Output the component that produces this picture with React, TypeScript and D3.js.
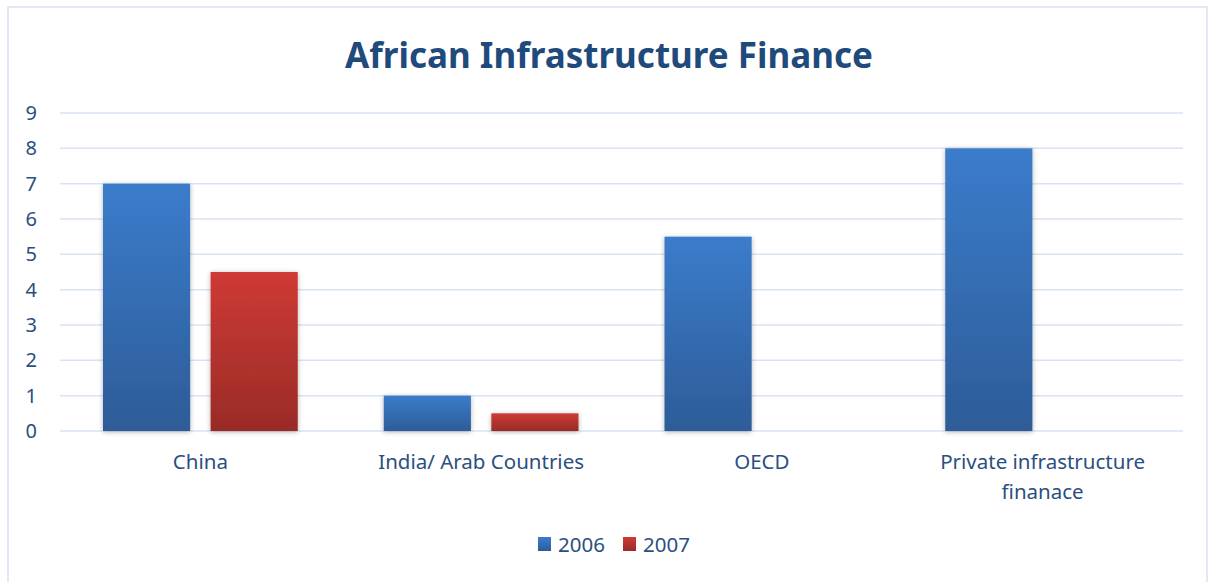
import * as d3 from 'd3';

const categories = ['China', 'India/ Arab Countries', 'OECD', 'Private infrastructure finanace'];
const seriesNames = ['2006', '2007'];
const values2006 = [7, 1, 5.5, 8];
const values2007 = [4.5, 0.5, 0, 0];
const yTicks = [0, 1, 2, 3, 4, 5, 6, 7, 8, 9];

const W = 1212;
const H = 582;
const margin = { top: 113, right: 29, bottom: 151, left: 60 };
const font = "'Noto Sans', 'Open Sans', sans-serif";
const textColor = '#2b4f7f';

function wrapLabel(label: string): string[] {
  if (label === 'Private infrastructure finanace') return ['Private infrastructure', 'finanace'];
  return [label];
}

export default function App() {
  const innerW = W - margin.left - margin.right;
  const innerH = H - margin.top - margin.bottom;

  const x0 = d3.scaleBand<string>().domain(categories).range([0, innerW]).paddingInner(0).paddingOuter(0);
  const x1 = d3.scaleBand<string>().domain(seriesNames).range([43, x0.bandwidth() - 43]).paddingInner(0.19).paddingOuter(0);
  const y = d3.scaleLinear().domain([0, 9]).range([innerH, 0]);

  const seriesValues = [values2006, values2007];
  const grads = ['gBlue', 'gRed'];

  return (
    <svg width={W} height={H} style={{ position: 'absolute', left: 0, top: 0, background: '#fff' }}>
      <defs>
        <linearGradient id="gBlue" x1="0" y1="0" x2="0" y2="1">
          <stop offset="0" stopColor="#3b7ccb" />
          <stop offset="1" stopColor="#2d5c98" />
        </linearGradient>
        <linearGradient id="gRed" x1="0" y1="0" x2="0" y2="1">
          <stop offset="0" stopColor="#cf3a35" />
          <stop offset="1" stopColor="#992b27" />
        </linearGradient>
        <filter id="shadow" x="-20%" y="-20%" width="140%" height="140%">
          <feDropShadow dx="0" dy="1" stdDeviation="2.5" floodColor="#000" floodOpacity="0.3" />
        </filter>
      </defs>
      <rect x={8} y={7} width={1199} height={H} fill="#fff" stroke="#d6e2f1" strokeWidth={1.5} />
      <text x={609} y={68} textAnchor="middle" fontFamily={font} fontWeight={700} fontSize={35} fill="#1f4a7c">
        African Infrastructure Finance
      </text>
      <g transform={`translate(${margin.left},${margin.top})`}>
        {yTicks.map(t => (
          <g key={t}>
            <line x1={0} x2={innerW} y1={y(t)} y2={y(t)} stroke="#d9e4f2" strokeWidth={1.5} />
            <text x={-23} y={y(t)} dy="0.35em" textAnchor="end" fontFamily={font} fontSize={20} fill={textColor}>{t}</text>
          </g>
        ))}
        {categories.map((c, i) => (
          <g key={c} transform={`translate(${x0(c)},0)`}>
            {seriesNames.map((s, j) => {
              const v = seriesValues[j][i];
              if (!v) return null;
              return (
                <rect key={s} x={x1(s)} y={y(v)} width={x1.bandwidth()} height={innerH - y(v)}
                  fill={`url(#${grads[j]})`} filter="url(#shadow)" />
              );
            })}
            {wrapLabel(c).map((line, k) => (
              <text key={k} x={x0.bandwidth() / 2} y={innerH + 38 + k * 30} textAnchor="middle"
                fontFamily={font} fontSize={20.5} fill={textColor}>{line}</text>
            ))}
          </g>
        ))}
      </g>
      <g transform="translate(538,537)">
        {seriesNames.map((s, j) => (
          <g key={s} transform={`translate(${j * 85},0)`}>
            <rect x={0} y={0} width={13} height={14} fill={`url(#${grads[j]})`} />
            <text x={20} y={15} fontFamily={font} fontSize={20.5} fill={textColor}>{s}</text>
          </g>
        ))}
      </g>
    </svg>
  );
}
